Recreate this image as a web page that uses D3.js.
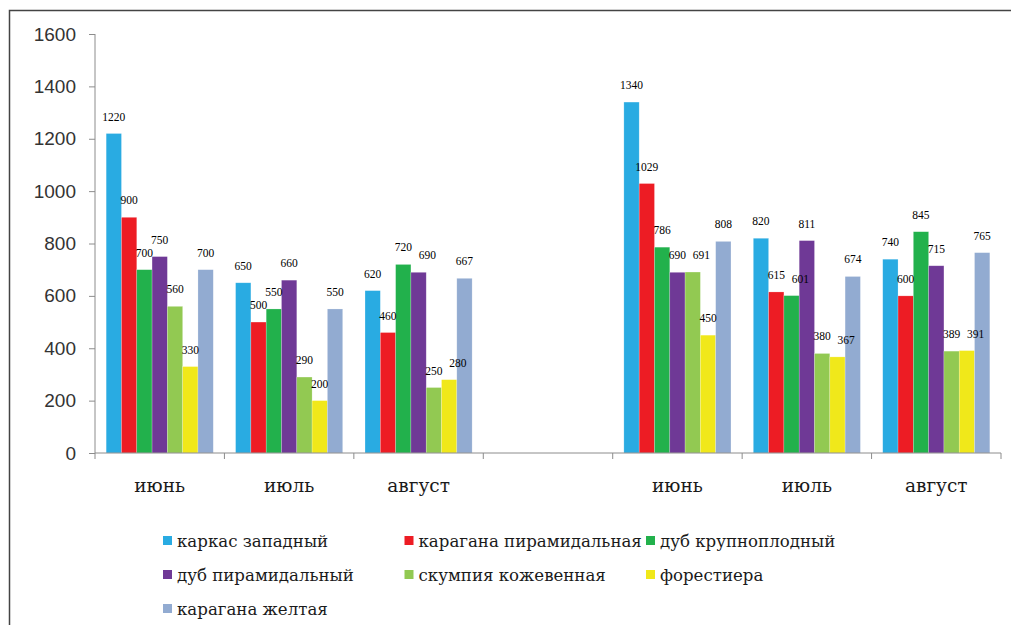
<!DOCTYPE html>
<html>
<head>
<meta charset="utf-8">
<script src="https://cdn.jsdelivr.net/npm/d3@7"></script>
<style>
  body { margin: 0; background: #fff; }
</style>
</head>
<body>
<svg id="grafico"></svg>
<script>
// categorias do eixo X (a quarta fica vazia)
var categorias = ['июнь', 'июль', 'август', '', 'июнь', 'июль', 'август'];

var especies = ['каркас западный', 'карагана пирамидальная', 'дуб крупноплодный',
                'дуб пирамидальный', 'скумпия кожевенная', 'форестиера', 'карагана желтая'];

var karkasZapadny        = [1220, 650, 620, null, 1340, 820, 740];
var karaganaPiramidal    = [900, 500, 460, null, 1029, 615, 600];
var dubKrupnoplodny      = [700, 550, 720, null, 786, 601, 845];
var dubPiramidalny       = [750, 660, 690, null, 690, 811, 715];
var skumpiyaKozhevennaya = [560, 290, 250, null, 691, 380, 389];
var forestiera           = [330, 200, 280, null, 450, 367, 391];
var karaganaZheltaya     = [700, 550, 667, null, 808, 674, 765];

var ticksY = [0, 200, 400, 600, 800, 1000, 1200, 1400, 1600];

var cores = ['#29abe2', '#ed1c24', '#22b14c', '#6f3996', '#92c952', '#f0e81a', '#92abd1'];

var series = [karkasZapadny, karaganaPiramidal, dubKrupnoplodny, dubPiramidalny,
              skumpiyaKozhevennaya, forestiera, karaganaZheltaya];

var serifa = "'DejaVu Serif', serif";
var serifaNumeros = "'Liberation Serif', 'Times New Roman', serif";
var semSerifa = "'Liberation Sans', Arial, sans-serif";

var dados = [];
series.forEach((s, j) => {
  s.forEach((v, i) => {
    if (v !== null) dados.push({ categoria: i, especie: especies[j], valor: v, cor: cores[j] });
  });
});

var largura = 1011, altura = 625;
var svg = d3.select('#grafico')
            .attr('width', largura)
            .attr('height', altura);

// moldura do grafico
svg.append('path')
   .attr('d', 'M9.5,' + altura + 'V10.5H' + largura)
   .attr('fill', 'none')
   .attr('stroke', '#444')
   .attr('stroke-width', 1.5);

var margem = { esquerda: 95, superior: 34 };
var larguraPlotagem = 906;
var alturaPlotagem = 419;

var plotagem = svg.append('g')
                  .attr('transform', 'translate(' + margem.esquerda + ',' + margem.superior + ')');

var x = d3.scaleBand()
          .domain(d3.range(categorias.length))
          .range([0, larguraPlotagem])
          .padding(0);
var xs = d3.scaleBand()
           .domain(especies)
           .range([0, x.bandwidth()])
           .paddingInner(0)
           .paddingOuter(0.73);
var y = d3.scaleLinear()
          .domain([0, 1600])
          .range([alturaPlotagem, 0]);

var eixoY = d3.axisLeft(y)
              .tickValues(ticksY)
              .tickFormat(d3.format('d'))
              .tickSize(6)
              .tickPadding(13);
var gy = plotagem.append('g')
                 .call(eixoY);
gy.select('.domain').attr('d', 'M0,' + alturaPlotagem + 'V0').attr('stroke', '#8c8c8c');
gy.selectAll('.tick line').attr('stroke', '#8c8c8c');
gy.selectAll('.tick text')
  .style('font-family', semSerifa)
  .style('font-size', '19px')
  .style('fill', '#333');

plotagem.selectAll('.barra')
  .data(dados)
  .enter()
    .append('rect')
    .classed('barra', true)
    .attr('x', d => x(d.categoria) + xs(d.especie))
    .attr('y', d => y(d.valor))
    .attr('width', xs.bandwidth())
    .attr('height', d => alturaPlotagem - y(d.valor))
    .attr('fill', d => d.cor)
    .attr('stroke', '#fff')
    .attr('stroke-opacity', 0.35)
    .attr('stroke-width', 0.6);

var eixoX = d3.axisBottom(x)
              .tickSize(0)
              .tickPadding(26)
              .tickFormat(i => categorias[i]);
var gx = plotagem.append('g')
                 .attr('transform', 'translate(0,' + alturaPlotagem + ')')
                 .call(eixoX);
gx.select('.domain').attr('d', 'M0,0H' + larguraPlotagem).attr('stroke', '#8c8c8c');
gx.selectAll('.tick text')
  .style('font-family', serifa)
  .style('font-size', '18.5px')
  .style('fill', '#1a1a1a');
gx.selectAll('.divisao')
  .data(d3.range(categorias.length + 1))
  .enter()
    .append('line')
    .classed('divisao', true)
    .attr('x1', i => i < categorias.length ? x(i) : larguraPlotagem)
    .attr('x2', i => i < categorias.length ? x(i) : larguraPlotagem)
    .attr('y1', 0)
    .attr('y2', 6)
    .attr('stroke', '#8c8c8c');

// rotulos: quando dois vizinhos ficam na mesma altura, o da direita e empurrado
dados.forEach(d => {
  d.rx = x(d.categoria) + xs(d.especie) + xs.bandwidth() / 2;
  d.ry = y(d.valor);
});
d3.group(dados, d => d.categoria).forEach(lista => {
  for (var k = 1; k < lista.length; k++) {
    var ant = lista[k - 1], atual = lista[k];
    if (Math.abs(ant.ry - atual.ry) < 12 && atual.rx - ant.rx < 24) {
      atual.rx = ant.rx + 24;
    }
  }
});

plotagem.selectAll('.rotulo')
  .data(dados)
  .enter()
    .append('text')
    .classed('rotulo', true)
    .text(d => d.valor)
    .attr('x', d => d.rx)
    .attr('y', d => d.ry)
    .attr('dy', -13)
    .style('text-anchor', 'middle')
    .style('font-family', serifaNumeros)
    .style('font-size', '11.5px')
    .style('fill', '#000');

// legenda em tres colunas
var legenda = svg.append('g');
var itens = legenda.selectAll('g')
  .data(especies)
  .enter()
    .append('g')
    .attr('transform', (d, i) => 'translate(' + (163 + (i % 3) * 241.5) + ',' + (536 + Math.floor(i / 3) * 34) + ')');
itens.append('rect')
     .attr('width', 9)
     .attr('height', 9)
     .attr('fill', (d, i) => cores[i]);
itens.append('text')
     .attr('x', 14)
     .attr('y', 11)
     .text(d => d)
     .style('font-family', serifa)
     .style('font-size', '16.6px')
     .style('fill', '#1a1a1a');
</script>
</body>
</html>
